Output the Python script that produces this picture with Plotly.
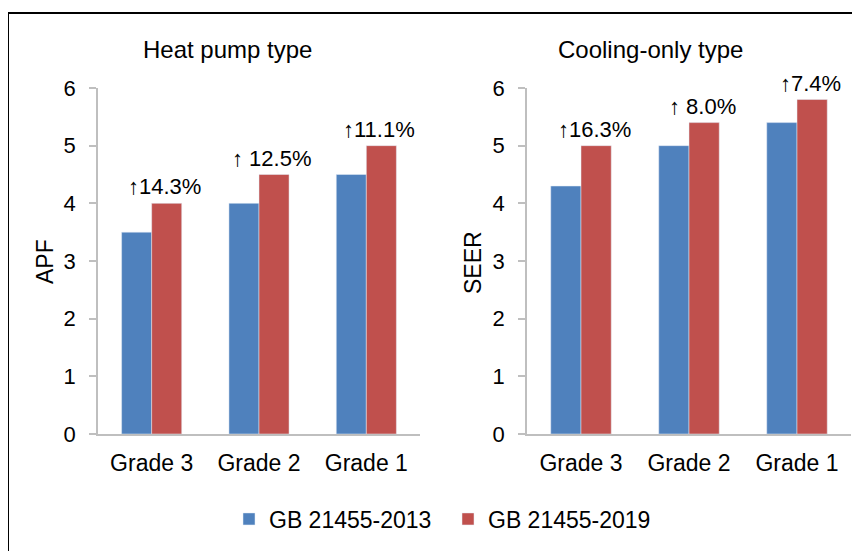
import plotly.graph_objects as go

W, H = 860, 551
OFF = 8  # page body margin offset

grades = ["Grade 3", "Grade 2", "Grade 1"]
series_names = ["GB 21455-2013", "GB 21455-2019"]
heat_2013 = [3.5, 4.0, 4.5]
heat_2019 = [4.0, 4.5, 5.0]
cool_2013 = [4.3, 5.0, 5.4]
cool_2019 = [5.0, 5.4, 5.8]
heat_labels = ["↑14.3%", "↑ 12.5%", "↑11.1%"]
cool_labels = ["↑16.3%", "↑ 8.0%", "↑7.4%"]
y_ticks = [0, 1, 2, 3, 4, 5, 6]

BLUE = "#4F81BD"
RED = "#C0504D"
AX = "#BFBFBF"
FONT = "Arial, Liberation Sans, sans-serif"

def px_x(x):
    return (x - OFF) / W

def px_y(y):
    return 1 - (y - OFF) / H

fig = go.Figure()

fig.add_trace(go.Bar(x=grades, y=heat_2013, name=series_names[0], marker_color=BLUE,
                     xaxis="x", yaxis="y", legendgroup="a"))
fig.add_trace(go.Bar(x=grades, y=heat_2019, name=series_names[1], marker_color=RED,
                     xaxis="x", yaxis="y", legendgroup="b"))
fig.add_trace(go.Bar(x=grades, y=cool_2013, name=series_names[0], marker_color=BLUE,
                     xaxis="x2", yaxis="y2", legendgroup="a", showlegend=False))
fig.add_trace(go.Bar(x=grades, y=cool_2019, name=series_names[1], marker_color=RED,
                     xaxis="x2", yaxis="y2", legendgroup="b", showlegend=False))

ydom = [px_y(434), px_y(88)]
xaxis_common = dict(showline=True, linecolor=AX, linewidth=1.5, ticks="", automargin=False,
                    showgrid=False, tickfont=dict(size=23, color="black", family=FONT),
                    ticklabelstandoff=8, fixedrange=True)
yaxis_common = dict(range=[0, 6], tickvals=y_ticks, showline=True, linecolor=AX, linewidth=1.5,
                    ticks="outside", ticklen=7, tickcolor=AX, tickwidth=1.5, automargin=False,
                    showgrid=False, zeroline=False,
                    tickfont=dict(size=22, color="black", family=FONT),
                    ticklabelstandoff=9, domain=ydom, fixedrange=True)

annotations = []
for i, g in enumerate(grades):
    annotations.append(dict(x=g, y=heat_2019[i], xref="x", yref="y", text=heat_labels[i],
                            showarrow=False, yanchor="bottom", xshift=13, yshift=2,
                            font=dict(size=22, color="black", family=FONT)))
    annotations.append(dict(x=g, y=cool_2019[i], xref="x2", yref="y2", text=cool_labels[i],
                            showarrow=False, yanchor="bottom", xshift=13, yshift=2,
                            font=dict(size=22, color="black", family=FONT)))

annotations += [
    dict(x=px_x(227), y=px_y(50), xref="paper", yref="paper", text="Heat pump type",
         showarrow=False, xanchor="center", yanchor="middle",
         font=dict(size=24, color="black", family=FONT)),
    dict(x=px_x(650), y=px_y(50), xref="paper", yref="paper", text="Cooling-only type",
         showarrow=False, xanchor="center", yanchor="middle",
         font=dict(size=24, color="black", family=FONT)),
    dict(x=px_x(45), y=px_y(262), xref="paper", yref="paper", text="APF", textangle=-90,
         showarrow=False, xanchor="center", yanchor="middle",
         font=dict(size=23, color="black", family=FONT)),
    dict(x=px_x(473), y=px_y(262), xref="paper", yref="paper", text="SEER", textangle=-90,
         showarrow=False, xanchor="center", yanchor="middle",
         font=dict(size=23, color="black", family=FONT)),
]

shapes = [
    dict(type="line", xref="paper", yref="paper", x0=px_x(8), x1=px_x(870), y0=px_y(13), y1=px_y(13),
         line=dict(color="black", width=2)),
    dict(type="line", xref="paper", yref="paper", x0=px_x(8), x1=px_x(8), y0=px_y(13), y1=px_y(560),
         line=dict(color="black", width=2)),
]

fig.update_layout(
    width=W, height=H,
    margin=dict(l=0, r=0, t=0, b=0, autoexpand=False),
    paper_bgcolor="white", plot_bgcolor="white",
    barmode="group", bargap=0.44, bargroupgap=0,
    font=dict(family=FONT, color="black"),
    xaxis=dict(domain=[px_x(98), px_x(420)], anchor="y", **xaxis_common),
    yaxis=dict(anchor="x", **yaxis_common),
    xaxis2=dict(domain=[px_x(527), px_x(851)], anchor="y2", **xaxis_common),
    yaxis2=dict(anchor="x2", **yaxis_common),
    showlegend=True,
    legend=dict(orientation="h", x=px_x(229), y=px_y(519), xanchor="left", yanchor="middle",
                font=dict(size=23, color="black", family=FONT), entrywidth=174,
                bgcolor="rgba(0,0,0,0)", itemclick=False, itemdoubleclick=False),
    annotations=annotations,
    shapes=shapes,
)

fig.write_html("out.html")
